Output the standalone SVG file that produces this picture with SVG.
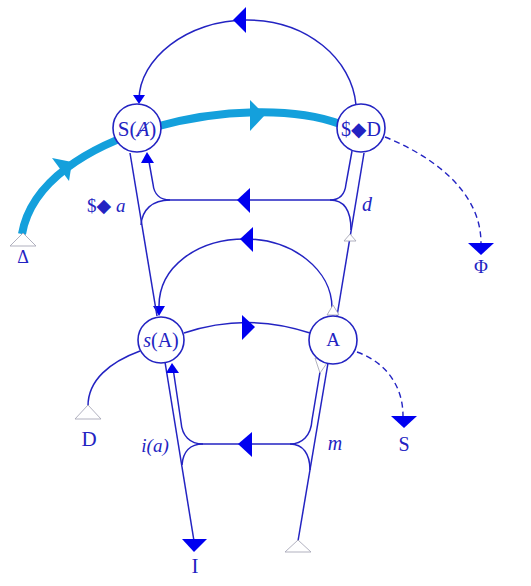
<svg xmlns="http://www.w3.org/2000/svg" width="531" height="586" viewBox="0 0 531 586">
<style>
.ln{fill:none;stroke:#2323c2;stroke-width:1.5}
.dash{fill:none;stroke:#2323c2;stroke-width:1.4;stroke-dasharray:6 4}
.cy{fill:none;stroke:#14a0dc;stroke-width:8}
.ah{fill:#0000f0;stroke:none}
.cah{fill:#14a0dc;stroke:none}
.open{fill:#fff;stroke:#a8a8b8;stroke-width:0.9}
.nd{fill:#fff;stroke:#2323c2;stroke-width:1.6}
.t{font-family:"Liberation Serif","DejaVu Serif",serif;fill:#2323c2}
.it{font-style:italic}
</style>
<rect width="531" height="586" fill="#fff"/>
<g id="connectors">
  <!-- cyan vector -->
  <path class="cy" d="M 22 234 C 40 130, 250 90, 340 124"/>
  <polygon class="cah" points="52,158 69,181 72,162"/>
  <polygon class="cah" points="250,100 250,131 265,115"/>
  <!-- top arc $<>D -> S(A) -->
  <path class="ln" d="M 356 105 C 352 59, 307 20, 247 20 C 187 20, 139 59, 139 100"/>
  <polygon class="ah" points="233,20 246,7 246,33"/>
  <polygon class="ah" points="133,95 145,95 139,104"/>
  <!-- middle arc A -> s(A) -->
  <path class="ln" d="M 332 308 C 332 270, 293 239, 245 239 C 197 239, 159 267, 159 306"/>
  <polygon class="ah" points="240,239 253,227 253,252"/>
  <polygon class="ah" points="153,306 165,306 159,316"/>
  <!-- s(A) -> A -->
  <path class="ln" d="M 184 333 Q 247 312 310 333"/>
  <polygon class="ah" points="242,315 242,340 255,327"/>
  <!-- L2: S(A) -> s(A) -->
  <path class="ln" d="M 130 153 L 157 316"/>
  <!-- R2: A -> $<>D -->
  <path class="ln" d="M 364 153 L 337 316"/>
  <!-- upper bracket -->
  <path class="ln" d="M 148 156 L 153 184 C 154 194, 160 200, 170 200 L 330 200 C 340 200, 345 194, 346 184 L 352 151"/>
  <path class="ln" d="M 170 200 C 152 200, 142 210, 141 225"/>
  <path class="ln" d="M 330 200 C 345 200, 351 212, 351 230"/>
  <polygon class="ah" points="147,152 141,163 154,163"/>
  <polygon class="ah" points="237,200 250,188 250,213"/>
  <polygon class="open" points="350,234 344,241 356,241"/>
  <!-- L1: s(A) -> I -->
  <path class="ln" d="M 165 362 L 194 541"/>
  <polygon class="ah" points="182,539 207,539 194,552"/>
  <!-- R1: start -> A -->
  <path class="ln" d="M 328 363 L 298 541"/>
  <polygon class="open" points="298,540 285,552 311,552"/>
  <!-- lower bracket -->
  <path class="ln" d="M 173 368 L 181 422 C 182 436, 190 444, 203 444 L 290 444 C 302 444, 311 436, 312 420 L 320 372"/>
  <path class="ln" d="M 203 444 C 190 444, 183 452, 182 465"/>
  <path class="ln" d="M 290 444 C 303 444, 310 454, 310 470"/>
  <polygon class="ah" points="172,363 166,373 179,373"/>
  <polygon class="ah" points="238,444 252,432 252,457"/>
  <polygon class="open" points="315,358 327,363 320,373"/>
  <polygon class="open" points="333,305 327,315 339,315"/>
  <!-- s(A) -> D -->
  <path class="ln" d="M 140 351 C 110 362, 88 380, 88 406"/>
  <polygon class="open" points="88,405 75,419 101,419"/>
  <!-- A -> S dashed -->
  <path class="dash" d="M 357 352 C 385 362, 403 385, 403 416"/>
  <polygon class="ah" points="391,416 417,416 404,428"/>
  <!-- $<>D -> Phi dashed -->
  <path class="dash" d="M 385 137 C 430 155, 481 190, 481 243"/>
  <polygon class="ah" points="468,243 494,243 481,255"/>
  <!-- Delta start -->
  <polygon class="open" points="23,233 10,246 36,246"/>
</g>
<g id="node-SA">
  <circle class="nd" cx="137" cy="128" r="24"/>
  <text class="t" x="137" y="136" font-size="21" text-anchor="middle">S(<tspan class="it">Ⱥ</tspan>)</text>
</g>
<g id="node-SD">
  <circle class="nd" cx="361" cy="128" r="24"/>
  <text class="t" x="361" y="136" font-size="20" text-anchor="middle">$◆D</text>
</g>
<g id="node-sA">
  <circle class="nd" cx="161" cy="340" r="23"/>
  <text class="t" x="161" y="347" font-size="20" text-anchor="middle"><tspan class="it">s</tspan>(A)</text>
</g>
<g id="node-A">
  <circle class="nd" cx="333" cy="340" r="24"/>
  <text class="t" x="333" y="346" font-size="19" text-anchor="middle">A</text>
</g>
<g id="labels">
  <text class="t" x="23" y="263" font-size="18" text-anchor="middle">Δ</text>
  <text class="t" x="89" y="446" font-size="21" text-anchor="middle">D</text>
  <text class="t" x="404" y="451" font-size="20" text-anchor="middle">S</text>
  <text class="t" x="195" y="573" font-size="21" text-anchor="middle">I</text>
  <text class="t" x="481" y="273" font-size="19" text-anchor="middle">Φ</text>
  <text class="t it" x="367" y="211" font-size="20" text-anchor="middle">d</text>
  <text class="t it" x="155" y="452" font-size="19" text-anchor="middle">i(a)</text>
  <text class="t it" x="335" y="450" font-size="20" text-anchor="middle">m</text>
  <text class="t" x="87" y="212" font-size="19">$◆ <tspan class="it">a</tspan></text>
</g>
</svg>
